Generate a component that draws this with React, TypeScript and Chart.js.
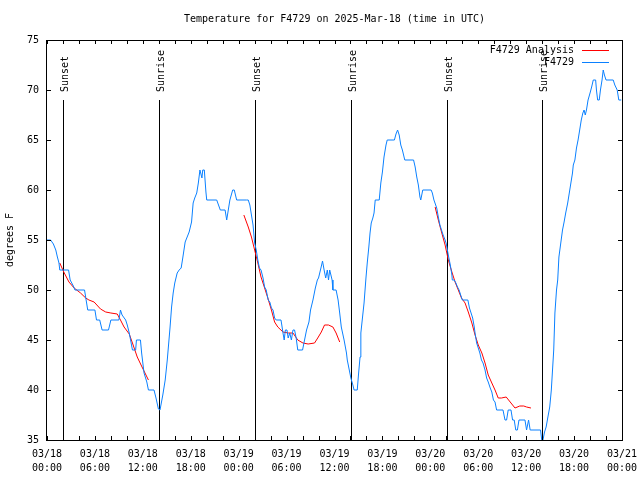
import React, { useEffect, useRef } from "react";
import { Chart, registerables } from "chart.js";

Chart.register(...registerables);

const TITLE = "Temperature for F4729 on 2025-Mar-18 (time in UTC)";
const Y_TITLE = "degrees F";
const FONT_FAMILY = "'DejaVu Sans Mono', 'Liberation Mono', monospace";

const X_TICK_DATES = ["03/18", "03/18", "03/18", "03/18", "03/19", "03/19", "03/19", "03/19", "03/20", "03/20", "03/20", "03/20", "03/21"];
const X_TICK_TIMES = ["00:00", "06:00", "12:00", "18:00", "00:00", "06:00", "12:00", "18:00", "00:00", "06:00", "12:00", "18:00", "00:00"];

// hours since 03/18 00:00 UTC
const SUN_HOURS = [2.0, 14.05, 26.05, 38.1, 50.1, 62.0];
const SUN_LABELS = ["Sunset", "Sunrise", "Sunset", "Sunrise", "Sunset", "Sunrise"];
const SUN_LINE_TOP = 69;

const SERIES_NAMES = ["F4729 Analysis", "F4729"];
const SERIES_COLORS = ["#ff0000", "#0a80ff"];

const OBS_HOURS = [
  0, 0.45, 0.8, 1.1, 1.3, 1.5, 1.6, 2.7, 2.9, 3.3, 3.5, 4.7, 4.9, 5.1, 6.0, 6.2, 6.6, 6.9, 7.7, 8.0,
  9.0, 9.2, 9.4, 9.85, 10.05, 10.3, 10.7, 11.1, 11.2, 11.7, 11.85, 12.15, 12.5, 12.7, 13.4, 13.65, 13.95, 14.15, 14.5, 14.8,
  15.06, 15.4, 15.6, 15.8, 16.0, 16.3, 16.55, 16.8, 17.0, 17.3, 17.5, 17.8, 18.1, 18.3, 18.5, 18.75, 18.95, 19.15, 19.4, 19.5,
  19.7, 19.9, 20.0, 21.25, 21.7, 22.3, 22.5, 22.7, 22.9, 23.25, 23.45, 23.75, 25.0, 25.2, 25.4, 25.6, 25.8, 26.0, 26.2, 26.4,
  26.6, 26.8, 27.05, 27.25, 27.45, 27.7, 27.9, 28.1, 28.3, 28.5, 28.7, 29.3, 29.4, 29.55, 29.7, 29.85, 30.05, 30.2, 30.4, 30.6,
  30.8, 31.0, 31.2, 31.4, 32.0, 32.2, 32.5, 32.8, 33.0, 33.3, 33.6, 33.85, 34.0, 34.3, 34.5, 34.7, 34.9, 35.1, 35.25, 35.4,
  35.7, 35.8, 36.2, 36.45, 36.65, 36.85, 37.2, 37.5, 37.6, 37.85, 38.05, 38.3, 38.45, 38.85, 39.0, 39.2, 39.3, 39.5, 39.7, 39.95,
  40.1, 40.3, 40.45, 40.6, 40.8, 40.95, 41.1, 41.6, 41.8, 42.0, 42.2, 42.45, 42.6, 43.5, 43.7, 43.9, 44.1, 44.3, 44.5, 44.8,
  45.9, 46.1, 46.3, 46.5, 46.7, 46.8, 47.05, 48.1, 48.25, 48.45, 48.8, 49.0, 49.2, 49.4, 49.6, 49.85, 50.0, 50.25, 50.5, 50.7,
  50.75, 51.0, 51.2, 51.4, 51.6, 51.8, 52.0, 52.7, 52.9, 53.1, 53.3, 53.5, 53.6, 53.8, 54.0, 54.2, 54.4, 54.6, 54.85, 55.05,
  55.25, 55.5, 55.7, 55.9, 56.1, 56.3, 57.1, 57.35, 57.55, 57.75, 58.1, 58.3, 58.5, 58.7, 58.9, 59.1, 59.85, 60.05, 60.3, 60.5,
  61.8, 61.95, 62.1, 62.3, 62.5, 62.7, 62.95, 63.15, 63.3, 63.45, 63.6, 63.8, 63.95, 64.1, 64.35, 64.55, 64.75, 64.95, 65.2, 65.4,
  65.6, 65.8, 65.9, 66.1, 66.3, 66.5, 66.7, 66.9, 67.1, 67.25, 67.4, 67.55, 67.75, 68.0, 68.2, 68.4, 68.7, 68.8, 68.95, 69.15,
  69.3, 69.5, 69.65, 69.8, 70.0, 70.9, 71.1, 71.4, 71.6, 71.9,
];
const OBS_TEMPS = [
  55, 55, 54.6, 54, 53.3, 52.7, 52, 52, 51, 50.4, 50, 50, 49, 48, 48, 47, 47, 46, 46, 47,
  47, 48, 47.5, 47, 46.5, 45.7, 44, 44, 45, 45, 43.7, 41.7, 40.8, 40, 40, 39.2, 38.1, 38, 39.5, 41,
  43, 46.2, 48.3, 49.7, 50.7, 51.7, 52, 52.2, 53.2, 54.8, 55.2, 55.8, 56.8, 58.7, 59.2, 59.7, 60.7, 62, 61.2, 62,
  62, 59.8, 59, 59, 58, 58, 57, 58, 59, 60, 60, 59, 59, 59, 58.5, 57.5, 56.5, 54.7, 54, 53,
  52.2, 52, 51.2, 50.3, 50, 49, 48.8, 48.2, 48, 47.2, 47, 47, 46.5, 45.7, 45, 46, 46, 45.2, 45.7, 45,
  46, 46, 45.2, 44, 44, 44.8, 46, 46.8, 48, 49, 50.2, 51, 51.2, 52.2, 52.9, 52, 51.2, 52, 51, 52,
  51, 50, 50, 49, 47.7, 46.3, 45, 43.7, 43, 42, 41.2, 40.5, 40, 40, 41.5, 43.3, 45.7, 47.2, 48.7, 51.3,
  52.7, 54.3, 55.7, 56.7, 57.2, 57.7, 59, 59, 60.7, 61.8, 63.3, 64.5, 65, 65, 65.6, 66, 65.5, 64.5, 64, 63,
  63, 62.3, 61.3, 60.5, 59.3, 59, 60, 60, 59.7, 59, 58.2, 57.3, 56.5, 56, 55.5, 55, 54.6, 53.5, 52.5, 51.5,
  51, 51, 50.7, 50.3, 50, 49.5, 49, 49, 48.2, 47.7, 47.2, 46.3, 45.7, 44.7, 44.2, 43.7, 43, 42.7, 42, 41.2,
  40.8, 40.2, 39.8, 39, 38.8, 38, 38, 37, 37, 38, 38, 37, 37, 36, 36, 37, 37, 36, 37, 36,
  36, 35, 35, 35.8, 36.3, 37.2, 38.3, 40, 42, 44, 47.7, 50, 51, 53.3, 54.8, 56, 56.8, 57.7, 58.7, 59.7,
  60.7, 61.7, 62.5, 63, 64.2, 65, 66, 67, 67.7, 68, 67.5, 68, 69, 69.7, 70.3, 71, 71, 70, 69, 69,
  70, 71, 72, 71.5, 71, 71, 70.5, 70, 69, 69,
];

// null temperatures separate the analysis segments
const ANA_HOURS = [
  1.6, 2.1, 2.75, 3.4, 4.2, 4.85, 5.25, 5.9, 6.7, 7.35, 8.0, 8.8, 9.2, 9.65, 10.3, 10.7, 11.3, 11.9, 12.7,
  18.0,
  24.65, 25.2, 25.6, 26.0, 26.4, 26.8, 27.25, 27.65, 28.1, 28.5, 28.9, 29.55, 30.2, 30.8, 31.4, 32.05, 32.7, 33.5, 33.9, 34.35,
  34.75, 35.25, 35.8, 36.2, 36.65,
  42.0,
  48.6, 49.0, 49.4, 49.85, 50.25, 50.7, 51.1, 51.5, 51.9, 52.35, 52.75, 53.2, 53.6, 54.0, 54.45, 54.85, 55.25, 55.7, 56.1, 56.5,
  56.9, 57.5, 58.0, 58.6, 59.2, 59.7, 60.05, 60.6,
];
const ANA_TEMPS = [
  52.7, 51.8, 50.8, 50.2, 49.7, 49.2, 49, 48.8, 48.1, 47.8, 47.7, 47.6, 47, 46.3, 45.6, 44.7, 43.3, 42.3, 41,
  null,
  57.5, 56.3, 55.3, 54, 52.7, 51.3, 50.2, 49.2, 48, 46.8, 46.3, 45.8, 45.7, 45.7, 45, 44.7, 44.6, 44.7, 45.2, 45.8,
  46.5, 46.5, 46.3, 45.7, 44.8,
  null,
  58.3, 57, 55.8, 54.5, 53, 51.8, 50.8, 50, 49.2, 48.7, 47.8, 46.7, 45.5, 44.5, 43.7, 42.7, 41.5, 40.7, 40, 39.2,
  39.2, 39.3, 38.8, 38.2, 38.4, 38.4, 38.3, 38.2,
];

const font = (size: number) => `${size}px ${FONT_FAMILY}`;

const decorPlugin = {
  id: "decor",
  beforeDatasetsDraw(chart: any) {
    const { ctx, chartArea: a, scales } = chart;
    const x = scales.x;
    const y = scales.y;
    ctx.save();
    ctx.strokeStyle = "#000";
    ctx.lineWidth = 1;
    ctx.fillStyle = "#000";
    ctx.font = font(10);
    SUN_HOURS.forEach((h, i) => {
      const px = Math.round(x.getPixelForValue(h)) + 0.5;
      const top = y.getPixelForValue(SUN_LINE_TOP);
      ctx.beginPath();
      ctx.moveTo(px, top);
      ctx.lineTo(px, a.bottom);
      ctx.stroke();
      ctx.save();
      ctx.translate(px + 1.5, top - 8);
      ctx.rotate(-Math.PI / 2);
      ctx.textAlign = "left";
      ctx.textBaseline = "middle";
      ctx.fillText(SUN_LABELS[i], 0, 0);
      ctx.restore();
    });
    ctx.restore();
  },
  afterDraw(chart: any) {
    const { ctx, chartArea: a, scales } = chart;
    const x = scales.x;
    const y = scales.y;
    ctx.save();
    ctx.strokeStyle = "#000";
    ctx.lineWidth = 1;
    // border
    ctx.strokeRect(a.left - 0.5, a.top + 0.5, a.right - a.left + 1, a.bottom - a.top);
    // inward ticks
    ctx.beginPath();
    for (let h = x.min; h <= x.max; h += 2) {
      const px = Math.round(x.getPixelForValue(h)) + 0.5;
      ctx.moveTo(px, a.bottom);
      ctx.lineTo(px, a.bottom - 4);
      ctx.moveTo(px, a.top);
      ctx.lineTo(px, a.top + 4);
    }
    y.ticks.forEach((t: any) => {
      const py = Math.round(y.getPixelForValue(t.value)) + 0.5;
      ctx.moveTo(a.left, py);
      ctx.lineTo(a.left + 4, py);
      ctx.moveTo(a.right, py);
      ctx.lineTo(a.right - 4, py);
    });
    ctx.stroke();
    // title
    ctx.fillStyle = "#000";
    ctx.font = font(10);
    ctx.textAlign = "center";
    ctx.textBaseline = "middle";
    ctx.fillText(TITLE, (a.left + a.right) / 2, 19);
    // legend
    ctx.textAlign = "right";
    const legendY = [50, 62];
    SERIES_NAMES.forEach((name, i) => {
      ctx.fillStyle = "#000";
      ctx.fillText(name, 574, legendY[i]);
      ctx.strokeStyle = SERIES_COLORS[i];
      ctx.beginPath();
      ctx.moveTo(582, legendY[i] + 0.5);
      ctx.lineTo(609, legendY[i] + 0.5);
      ctx.stroke();
    });
    ctx.restore();
  },
};

export default function App() {
  const canvasRef = useRef<HTMLCanvasElement>(null);

  useEffect(() => {
    const canvas = canvasRef.current;
    if (!canvas) return;
    const chart = new Chart(canvas, {
      type: "line",
      data: {
        datasets: [
          {
            label: SERIES_NAMES[0],
            data: ANA_HOURS.map((h, i) => ({ x: h, y: ANA_TEMPS[i] })),
            borderColor: SERIES_COLORS[0],
            borderWidth: 1,
            pointRadius: 0,
            tension: 0,
            spanGaps: false,
            order: 1,
          },
          {
            label: SERIES_NAMES[1],
            data: OBS_HOURS.map((h, i) => ({ x: h, y: OBS_TEMPS[i] })),
            borderColor: SERIES_COLORS[1],
            borderWidth: 1,
            pointRadius: 0,
            tension: 0,
            order: 0,
          },
        ],
      },
      options: {
        animation: false,
        responsive: false,
        devicePixelRatio: 1,
        layout: { padding: { left: 0, right: 18, top: 40, bottom: 0 } },
        plugins: {
          legend: { display: false },
          tooltip: { enabled: false },
          title: { display: false },
        },
        scales: {
          x: {
            type: "linear",
            min: 0,
            max: 72,
            grid: { display: false, drawTicks: false },
            border: { display: false },
            afterFit: (s: any) => {
              s.height = 40;
              s.paddingLeft = 0;
              s.paddingRight = 0;
            },
            ticks: {
              stepSize: 6,
              autoSkip: false,
              maxRotation: 0,
              padding: 7,
              color: "#000",
              font: { family: FONT_FAMILY, size: 10, lineHeight: 1.4 },
              callback: (v: any) => {
                const i = Math.round(Number(v) / 6);
                return [X_TICK_DATES[i], X_TICK_TIMES[i]];
              },
            },
          },
          y: {
            min: 35,
            max: 75,
            grid: { display: false, drawTicks: false },
            border: { display: false },
            afterFit: (s: any) => {
              s.width = 47;
              s.paddingTop = 0;
              s.paddingBottom = 0;
            },
            title: {
              display: true,
              text: Y_TITLE,
              color: "#000",
              font: { family: FONT_FAMILY, size: 10 },
              padding: { top: 4, bottom: 0 },
            },
            ticks: {
              stepSize: 5,
              padding: 8,
              color: "#000",
              font: { family: FONT_FAMILY, size: 10 },
            },
          },
        },
      },
      plugins: [decorPlugin],
    });
    return () => chart.destroy();
  }, []);

  return (
    <div style={{ position: "fixed", left: 0, top: 0, width: 640, height: 480, background: "#fff" }}>
      <canvas ref={canvasRef} width={640} height={480} />
    </div>
  );
}
